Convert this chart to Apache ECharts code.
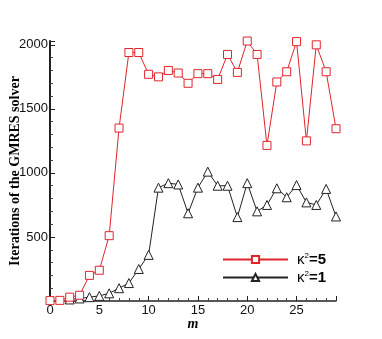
<!DOCTYPE html>
<html>
<head>
<meta charset="utf-8">
<script src="https://cdn.jsdelivr.net/npm/echarts@6/dist/echarts.min.js"></script>
<style>
  html, body { margin: 0; padding: 0; background: #fff; }
  #mainChart { width: 382px; height: 339px; }
</style>
</head>
<body>
<div id="mainChart"></div>
<script>
// m values
var mValues = [0, 1, 2, 3, 4, 5, 6, 7, 8, 9, 10, 11, 12, 13, 14, 15, 16, 17, 18, 19, 20, 21, 22, 23, 24, 25, 26, 27, 28, 29];
// kappa^2 = 5
var itersK5 = [3, 5, 30, 45, 200, 240, 510, 1350, 1940, 1940, 1770, 1750, 1800, 1780, 1700, 1775, 1775, 1730, 1925, 1785, 2030, 1925, 1215, 1710, 1790, 2025, 1250, 2000, 1790, 1345];
// kappa^2 = 1 (starts at m=2)
var itersK1 = [null, null, 12, 20, 30, 40, 60, 100, 140, 250, 360, 885, 920, 910, 685, 885, 1010, 900, 900, 655, 920, 700, 750, 880, 810, 905, 770, 750, 875, 660];
var seriesNames = ['k5', 'k1'];
var xTicks = [0, 5, 10, 15, 20, 25];
var yTicks = [500, 1000, 1500, 2000];

function pairs(vals) {
  var out = [];
  for (var i = 0; i < mValues.length; i++) {
    if (vals[i] !== null) out.push([mValues[i], vals[i]]);
  }
  return out;
}

var myChart = echarts.init(document.getElementById('mainChart'));

var legendRich = {
  k: { fontFamily: 'Liberation Sans', fontSize: 15, color: '#000', lineHeight: 15 },
  s: { fontFamily: 'Liberation Sans', fontSize: 8, color: '#000', verticalAlign: 'top', lineHeight: 15, padding: [0, 0, 7, 0] },
  b: { fontFamily: 'Liberation Sans', fontSize: 15, fontWeight: 'bold', color: '#000', lineHeight: 15 }
};

var option = {
  backgroundColor: '#fff',
  animation: false,
  grid: { left: 50, right: 46, top: 41, bottom: 38, outerBoundsMode: 'none', containLabel: false },
  legend: {
    orient: 'vertical',
    left: 222,
    top: 252,
    padding: 0,
    itemWidth: 65,
    itemHeight: 9,
    itemGap: 3,
    data: seriesNames,
    formatter: function (name) {
      return name === 'k5' ? '{k|κ}{s|2}{b|=5}' : '{k|κ}{s|2}{b|=1}';
    },
    textStyle: { rich: legendRich, padding: [0, 0, 0, 4] }
  },
  xAxis: {
    type: 'value',
    min: 0,
    max: 29,
    interval: 5,
    name: 'm',
    nameLocation: 'middle',
    nameGap: 16,
    nameMoveOverlap: false,
    nameTextStyle: { fontFamily: 'Liberation Serif', fontStyle: 'italic', fontWeight: 'bold', fontSize: 14, color: '#000' },
    axisLine: { lineStyle: { color: '#222', width: 1.5 } },
    axisTick: { inside: true, length: 5, lineStyle: { color: '#222' } },
    minorTick: { show: true, splitNumber: 5, length: 3, lineStyle: { color: '#444' } },
    splitLine: { show: false },
    axisLabel: {
      margin: 3,
      fontFamily: 'Liberation Sans',
      fontSize: 13,
      color: '#111',
      formatter: function (v) { return xTicks.indexOf(v) >= 0 ? String(v) : ''; }
    }
  },
  yAxis: {
    type: 'value',
    min: 0,
    max: 2030,
    interval: 500,
    name: 'Iterations of the GMRES solver',
    nameLocation: 'middle',
    nameGap: 28,
    nameMoveOverlap: false,
    nameTextStyle: { fontFamily: 'Liberation Serif', fontWeight: 'bold', fontSize: 14, color: '#000' },
    axisLine: { lineStyle: { color: '#222', width: 2 } },
    axisTick: { inside: true, length: 5, lineStyle: { color: '#222' } },
    minorTick: { show: true, splitNumber: 5, length: 3, lineStyle: { color: '#444' } },
    splitLine: { show: false },
    axisLabel: {
      margin: 2,
      fontFamily: 'Liberation Sans',
      fontSize: 13,
      color: '#111',
      formatter: function (v) { return yTicks.indexOf(v) >= 0 ? String(v) : ''; }
    }
  },
  series: [
    {
      name: 'k5',
      type: 'line',
      data: pairs(itersK5),
      symbol: 'rect',
      symbolSize: 8,
      clip: false,
      lineStyle: { color: '#e0242b', width: 1 },
      itemStyle: { color: '#fff', borderColor: '#e0242b', borderWidth: 1 },
      z: 3
    },
    {
      name: 'k1',
      type: 'line',
      data: pairs(itersK1),
      symbol: 'triangle',
      symbolSize: 9,
      clip: false,
      lineStyle: { color: '#222', width: 1 },
      itemStyle: { color: '#fff', borderColor: '#222', borderWidth: 1 },
      z: 2
    }
  ]
};
myChart.setOption(option);
</script>
</body>
</html>
